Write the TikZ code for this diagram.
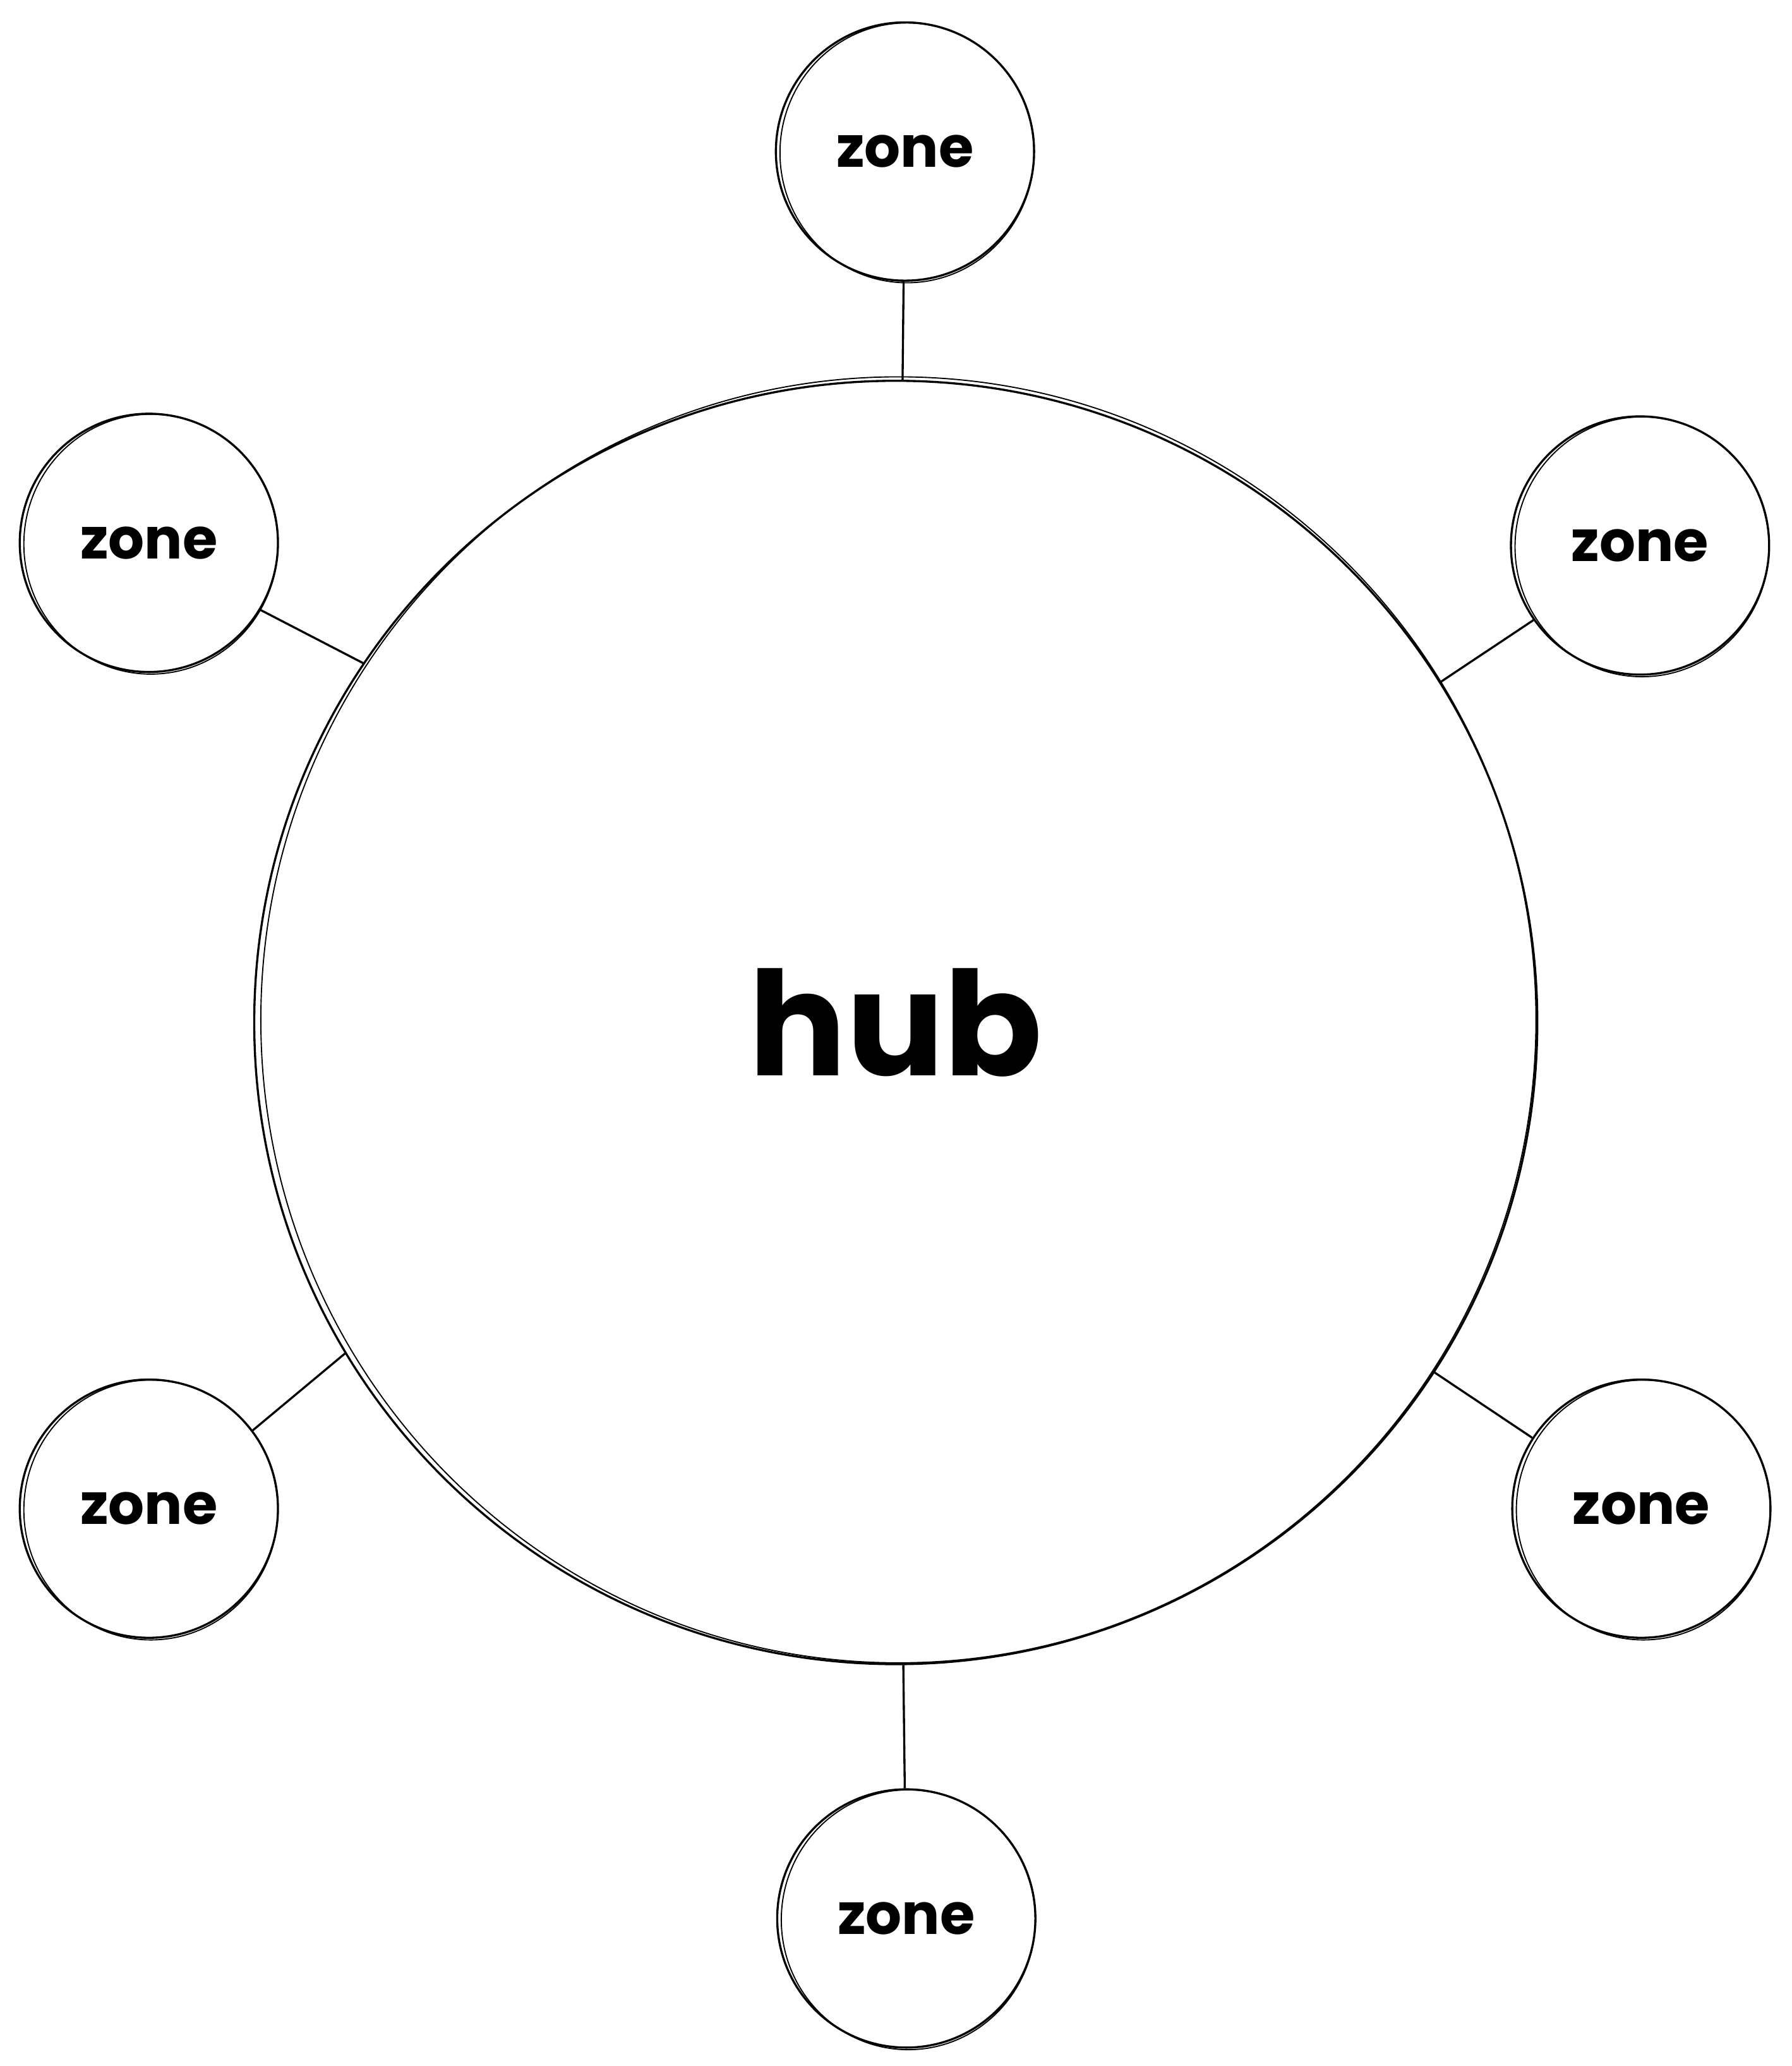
\documentclass[tikz,border=0pt]{standalone}
\usepackage{fontspec}
\setmainfont{Poppins}
\begin{document}
\begin{tikzpicture}[x=0.5pt,y=-0.5pt,
  zone/.style={circle,draw,line width=0.8pt,minimum size=98pt,inner sep=0pt,font=\bfseries\fontsize{21.5}{26}\selectfont},
  hubnode/.style={circle,draw,line width=0.8pt,minimum size=487pt,inner sep=0pt,font=\bfseries\fontsize{55}{64}\selectfont},
  link/.style={line width=0.8pt},
  sketch/.style={line width=0.45pt}]
\useasboundingbox (0,0) rectangle (1360,1568);
\fill[white] (0,0) rectangle (1360,1568);
\node[hubnode] (hub) at (680,776) {hub};
\node[zone] (zt) at (687,115) {zone};
\node[zone] (zul) at (113,412) {zone};
\node[zone] (zur) at (1245,414) {zone};
\node[zone] (zll) at (113,1145) {zone};
\node[zone] (zlr) at (1246,1145) {zone};
\node[zone] (zb) at (688,1456) {zone};
% sketchy second strokes
\draw[sketch] ([shift={(2,-2)}]hub.center) ellipse [x radius=242pt, y radius=244pt];
\foreach \n in {zt,zul,zur,zll,zlr,zb}
  \draw[sketch] ([shift={(1.5,1)}]\n.center) ellipse [x radius=48.2pt, y radius=49.3pt];
% connectors
\draw[link] (zt) -- (hub);
\draw[link] (zul.-31) -- (hub.146);
\draw[link] (zur.215) -- (hub.32);
\draw[link] (zll.37) -- (hub.211);
\draw[link] (zlr.147) -- (hub.-33);
\draw[link] (zb) -- (hub);
\end{tikzpicture}
\end{document}
